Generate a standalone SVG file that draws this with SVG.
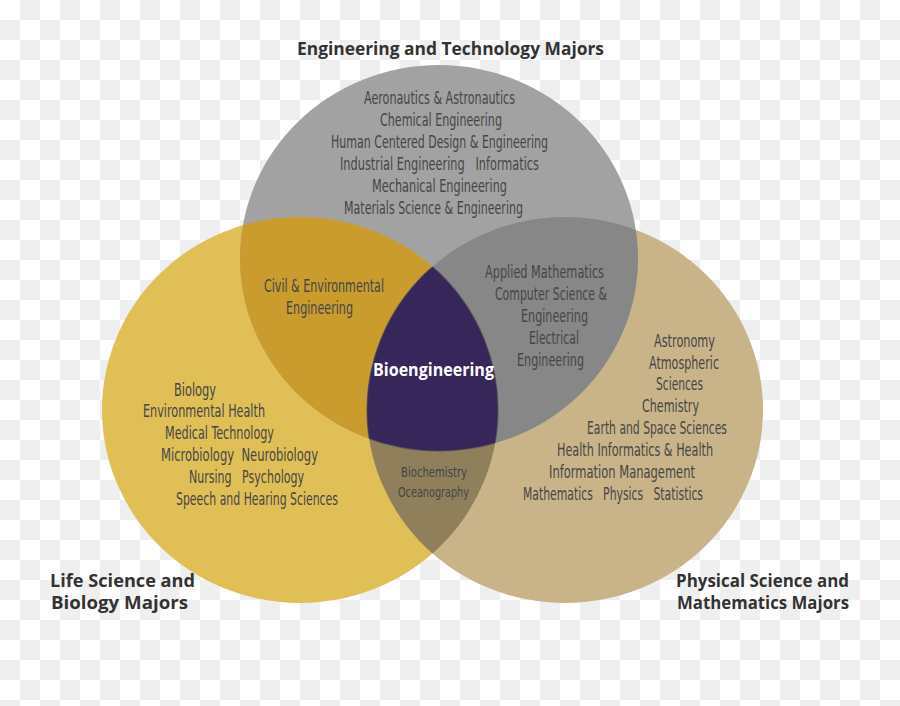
<svg xmlns="http://www.w3.org/2000/svg" width="900" height="706" viewBox="0 0 900 706">
<style>
.t{font-family:"Liberation Sans Narrow","DejaVu Sans Condensed","Liberation Sans",sans-serif;font-size:17px;fill:#464646}
.s{font-size:14px}
.h{font-family:"Open Sans","Liberation Sans",sans-serif;font-weight:bold;font-size:17.5px;fill:#333333}
.b{font-family:"Open Sans","Liberation Sans",sans-serif;font-weight:bold;font-size:17px;fill:#ffffff}
.edge{fill:none;stroke:#4a4a55;stroke-width:1.4;stroke-opacity:0.55}
</style>
<defs>
<pattern id="checker" width="40" height="40" patternUnits="userSpaceOnUse">
<rect width="40" height="40" fill="#ffffff"/>
<rect x="20" y="0" width="20" height="20" fill="#efefef"/>
<rect x="0" y="20" width="20" height="20" fill="#efefef"/>
</pattern>
<ellipse id="eY" cx="300" cy="410" rx="198" ry="193"/>
<ellipse id="eT" cx="565" cy="410" rx="198" ry="193"/>
<ellipse id="eG" cx="439" cy="258" rx="199" ry="193"/>
<clipPath id="cY"><use href="#eY"/></clipPath>
<clipPath id="cT"><use href="#eT"/></clipPath>
<clipPath id="cG"><use href="#eG"/></clipPath>
</defs>
<rect width="900" height="706" fill="url(#checker)"/>

<g id="life-science">
<use href="#eY" fill="#e0bf57"/>
</g>
<g id="physical-science">
<use href="#eT" fill="#c9b489"/>
</g>
<g id="engineering">
<use href="#eG" fill="#a2a2a2"/>
</g>
<g id="overlap-life-eng" clip-path="url(#cY)">
<use href="#eG" fill="#c99c2d"/>
</g>
<g id="overlap-phys-eng" clip-path="url(#cT)">
<use href="#eG" fill="#878787"/>
</g>
<g id="overlap-life-phys" clip-path="url(#cY)">
<use href="#eT" fill="#8f7f5b"/>
</g>
<g id="bioengineering">
<g clip-path="url(#cY)"><g clip-path="url(#cT)"><use href="#eG" fill="#37265a"/></g></g>
<g clip-path="url(#cY)"><g clip-path="url(#cG)"><use href="#eT" class="edge"/></g></g>
<g clip-path="url(#cG)"><g clip-path="url(#cT)"><use href="#eY" class="edge"/></g></g>
<g clip-path="url(#cY)"><g clip-path="url(#cT)"><use href="#eG" class="edge"/></g></g>
<text class="b" x="373" y="376" textLength="121" lengthAdjust="spacingAndGlyphs">Bioengineering</text>
</g>
<g id="connectors"/>

<g id="engineering-labels">
<text class="h" x="297" y="55" textLength="307" lengthAdjust="spacingAndGlyphs">Engineering and Technology Majors</text>
<text class="t" x="364" y="104" textLength="151" lengthAdjust="spacingAndGlyphs">Aeronautics &amp; Astronautics</text>
<text class="t" x="380" y="126" textLength="122" lengthAdjust="spacingAndGlyphs">Chemical Engineering</text>
<text class="t" x="331" y="148" textLength="217" lengthAdjust="spacingAndGlyphs">Human Centered Design &amp; Engineering</text>
<text class="t" x="340" y="170" textLength="199" lengthAdjust="spacingAndGlyphs" xml:space="preserve">Industrial Engineering   Informatics</text>
<text class="t" x="372" y="192" textLength="135" lengthAdjust="spacingAndGlyphs">Mechanical Engineering</text>
<text class="t" x="344" y="214" textLength="179" lengthAdjust="spacingAndGlyphs">Materials Science &amp; Engineering</text>
</g>
<g id="life-eng-labels">
<text class="t" x="264" y="292" textLength="120" lengthAdjust="spacingAndGlyphs">Civil &amp; Environmental</text>
<text class="t" x="286" y="314" textLength="67" lengthAdjust="spacingAndGlyphs">Engineering</text>
</g>
<g id="phys-eng-labels">
<text class="t" x="485" y="278" textLength="119" lengthAdjust="spacingAndGlyphs">Applied Mathematics</text>
<text class="t" x="495" y="300" textLength="112" lengthAdjust="spacingAndGlyphs">Computer Science &amp;</text>
<text class="t" x="521" y="322" textLength="67" lengthAdjust="spacingAndGlyphs">Engineering</text>
<text class="t" x="529" y="344" textLength="50" lengthAdjust="spacingAndGlyphs">Electrical</text>
<text class="t" x="517" y="366" textLength="67" lengthAdjust="spacingAndGlyphs">Engineering</text>
</g>
<g id="life-labels">
<text class="t" x="174" y="396" textLength="42" lengthAdjust="spacingAndGlyphs">Biology</text>
<text class="t" x="143" y="417" textLength="122" lengthAdjust="spacingAndGlyphs">Environmental Health</text>
<text class="t" x="165" y="439" textLength="109" lengthAdjust="spacingAndGlyphs">Medical Technology</text>
<text class="t" x="161" y="461" textLength="157" lengthAdjust="spacingAndGlyphs" xml:space="preserve">Microbiology  Neurobiology</text>
<text class="t" x="189" y="483" textLength="115" lengthAdjust="spacingAndGlyphs" xml:space="preserve">Nursing   Psychology</text>
<text class="t" x="176" y="505" textLength="162" lengthAdjust="spacingAndGlyphs">Speech and Hearing Sciences</text>
<text class="h" x="50" y="587" textLength="145" lengthAdjust="spacingAndGlyphs">Life Science and</text>
<text class="h" x="51" y="609" textLength="137" lengthAdjust="spacingAndGlyphs">Biology Majors</text>
</g>
<g id="phys-labels">
<text class="t" x="654" y="347" textLength="61" lengthAdjust="spacingAndGlyphs">Astronomy</text>
<text class="t" x="649" y="369" textLength="70" lengthAdjust="spacingAndGlyphs">Atmospheric</text>
<text class="t" x="656" y="390" textLength="47" lengthAdjust="spacingAndGlyphs">Sciences</text>
<text class="t" x="642" y="412" textLength="57" lengthAdjust="spacingAndGlyphs">Chemistry</text>
<text class="t" x="587" y="434" textLength="140" lengthAdjust="spacingAndGlyphs">Earth and Space Sciences</text>
<text class="t" x="557" y="456" textLength="156" lengthAdjust="spacingAndGlyphs">Health Informatics &amp; Health</text>
<text class="t" x="549" y="478" textLength="146" lengthAdjust="spacingAndGlyphs">Information Management</text>
<text class="t" x="523" y="500" textLength="180" lengthAdjust="spacingAndGlyphs" xml:space="preserve">Mathematics   Physics   Statistics</text>
<text class="h" x="676" y="587" textLength="173" lengthAdjust="spacingAndGlyphs">Physical Science and</text>
<text class="h" x="677" y="609" textLength="172" lengthAdjust="spacingAndGlyphs">Mathematics Majors</text>
</g>
<g id="life-phys-labels">
<text class="t s" x="401" y="477" textLength="66" lengthAdjust="spacingAndGlyphs">Biochemistry</text>
<text class="t s" x="398" y="497" textLength="71" lengthAdjust="spacingAndGlyphs">Oceanography</text>
</g>
</svg>
